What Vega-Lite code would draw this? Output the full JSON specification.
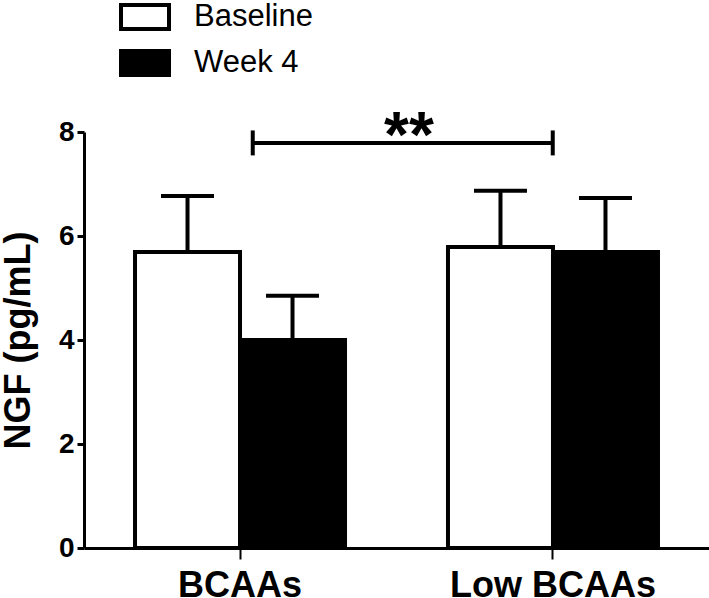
{
  "$schema": "https://vega.github.io/schema/vega-lite/v6.json",
  "width": 625,
  "height": 416,
  "autosize": {"type": "none"},
  "padding": {"left": 84, "top": 132, "right": 0, "bottom": 50},
  "background": "white",
  "config": {
    "view": {"stroke": null},
    "font": "Liberation Sans"
  },
  "datasets": {
    "bars": [
      {"group": "BCAAs", "time": "Baseline", "mean": 5.69, "upper": 6.77},
      {"group": "BCAAs", "time": "Week 4", "mean": 4.0, "upper": 4.85},
      {"group": "Low BCAAs", "time": "Baseline", "mean": 5.79, "upper": 6.87},
      {"group": "Low BCAAs", "time": "Week 4", "mean": 5.69, "upper": 6.73}
    ],
    "bracket": [{"pos": 0.54, "pos2": 1.5, "y": 7.79}],
    "ends": [
      {"pos": 0.54, "lo": 7.55, "hi": 8.03},
      {"pos": 1.5, "lo": 7.55, "hi": 8.03}
    ],
    "stars": [{"pos": 1.04, "y": 7.52, "label": "**"}]
  },
  "resolve": {"scale": {"x": "independent"}, "axis": {"x": "independent"}},
  "layer": [
    {
      "data": {"name": "bars"},
      "encoding": {
        "x": {
          "field": "group",
          "type": "nominal",
          "sort": ["BCAAs", "Low BCAAs"],
          "scale": {"paddingInner": 0.329, "paddingOuter": 0.163},
          "axis": {
            "title": null,
            "labelAngle": 0,
            "labelFontSize": 36,
            "labelFontWeight": "bold",
            "labelColor": "black",
            "labelPadding": 9,
            "labelLimit": 0,
            "tickSize": 11,
            "tickWidth": 2,
            "tickColor": "black",
            "domainWidth": 3,
            "domainColor": "black",
            "grid": false
          }
        },
        "xOffset": {
          "field": "time",
          "type": "nominal",
          "sort": ["Baseline", "Week 4"],
          "scale": {"paddingInner": 0, "paddingOuter": 0}
        }
      },
      "layer": [
        {
          "mark": {"type": "rule", "strokeWidth": 4, "color": "black"},
          "encoding": {
            "y": {
              "field": "mean",
              "type": "quantitative",
              "title": "NGF (pg/mL)",
              "scale": {"domain": [0, 8], "nice": false},
              "axis": {
                "title": "NGF (pg/mL)",
                "titleFontSize": 36,
                "titleFontWeight": "bold",
                "titleColor": "black",
                "titlePadding": 21,
                "values": [0, 2, 4, 6, 8],
                "labelFontSize": 28,
                "labelFontWeight": "bold",
                "labelColor": "black",
                "labelPadding": 3,
                "tickSize": 7,
                "tickWidth": 3,
                "tickColor": "black",
                "domainWidth": 3,
                "domainColor": "black",
                "grid": false
              }
            },
            "y2": {"field": "upper"}
          }
        },
        {
          "mark": {"type": "tick", "thickness": 4, "size": 53, "color": "black", "opacity": 1},
          "encoding": {
            "y": {"field": "upper", "type": "quantitative", "title": "NGF (pg/mL)"}
          }
        },
        {
          "mark": {"type": "bar", "stroke": "black", "strokeWidth": 4},
          "encoding": {
            "y": {"field": "mean", "type": "quantitative", "title": "NGF (pg/mL)"},
            "fill": {
              "field": "time",
              "type": "nominal",
              "scale": {"domain": ["Baseline", "Week 4"], "range": ["white", "black"]},
              "legend": {
                "title": null,
                "orient": "none",
                "legendX": 35,
                "legendY": -141,
                "symbolType": "M-1,-0.5H1V0.5H-1Z",
                "symbolSize": 2304,
                "symbolStrokeColor": "black",
                "symbolStrokeWidth": 4,
                "labelFontSize": 31,
                "labelColor": "black",
                "labelOffset": 23,
                "rowPadding": 0,
                "padding": 0
              }
            }
          }
        }
      ]
    },
    {
      "data": {"name": "bracket"},
      "mark": {"type": "rule", "strokeWidth": 4, "color": "black"},
      "encoding": {
        "x": {"field": "pos", "type": "quantitative", "scale": {"domain": [0, 2], "nice": false, "zero": false}, "axis": null},
        "x2": {"field": "pos2"},
        "y": {"field": "y", "type": "quantitative", "title": "NGF (pg/mL)"}
      }
    },
    {
      "data": {"name": "ends"},
      "mark": {"type": "rule", "strokeWidth": 4, "color": "black"},
      "encoding": {
        "x": {"field": "pos", "type": "quantitative", "scale": {"domain": [0, 2], "nice": false, "zero": false}, "axis": null},
        "y": {"field": "lo", "type": "quantitative", "title": "NGF (pg/mL)"},
        "y2": {"field": "hi"}
      }
    },
    {
      "data": {"name": "stars"},
      "mark": {"type": "text", "fontSize": 64, "fontWeight": "bold", "baseline": "alphabetic", "align": "center", "color": "black"},
      "encoding": {
        "x": {"field": "pos", "type": "quantitative", "scale": {"domain": [0, 2], "nice": false, "zero": false}, "axis": null},
        "y": {"field": "y", "type": "quantitative", "title": "NGF (pg/mL)"},
        "text": {"field": "label"}
      }
    }
  ]
}
